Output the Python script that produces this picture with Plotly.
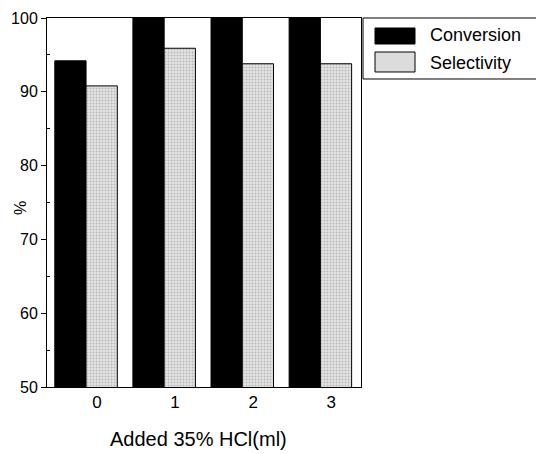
import plotly.graph_objects as go

categories = [0, 1, 2, 3]
tick_labels = ["0", "1", "2", "3"]
conversion = [94.2, 100, 100, 100]
selectivity = [90.8, 95.9, 93.8, 93.8]
series_names = ["Conversion", "Selectivity"]
x_title = "Added 35% HCl(ml)"
y_title = "%"

FONT = "Arial, Liberation Sans, sans-serif"
SEL_FILL = "#dcdcdc"

fig = go.Figure()
fig.add_trace(go.Bar(
    x=categories, y=conversion, name=series_names[0],
    width=0.40, offset=-0.54,
    marker=dict(color="black", line=dict(color="black", width=1)),
))
fig.add_trace(go.Bar(
    x=categories, y=selectivity, name=series_names[1],
    width=0.40, offset=-0.14,
    marker=dict(
        color=SEL_FILL,
        line=dict(color="black", width=1),
        pattern=dict(shape=".", fgcolor="#8a8a8a", bgcolor="#e4e4e4", size=3, solidity=0.35),
    ),
))

# legend drawn as a box with swatches (paper coordinates)
shapes = [
    dict(type="rect", xref="paper", yref="paper", x0=1.0064, x1=1.597, y0=0.8347, y1=1.0,
         line=dict(color="black", width=1), fillcolor="white"),
    dict(type="rect", xref="paper", yref="paper", x0=1.0446, x1=1.172, y0=0.9295, y1=0.9729,
         line=dict(color="black", width=1), fillcolor="black"),
    dict(type="rect", xref="paper", yref="paper", x0=1.0446, x1=1.172, y0=0.8537, y1=0.9079,
         line=dict(color="black", width=1), fillcolor=SEL_FILL),
]
annotations = [
    dict(text=series_names[0], xref="paper", yref="paper", x=1.213, y=0.9539,
         xanchor="left", yanchor="middle", showarrow=False, font=dict(size=18, family=FONT)),
    dict(text=series_names[1], xref="paper", yref="paper", x=1.213, y=0.878,
         xanchor="left", yanchor="middle", showarrow=False, font=dict(size=18, family=FONT)),
    dict(text=x_title, xref="paper", yref="paper", x=0.484, y=-0.142,
         xanchor="center", yanchor="middle", showarrow=False, font=dict(size=20, family=FONT)),
    dict(text=y_title, xref="paper", yref="paper", x=-0.086, y=0.485, textangle=-90,
         xanchor="center", yanchor="middle", showarrow=False, font=dict(size=16, family=FONT)),
]

fig.update_layout(
    width=536, height=454,
    margin=dict(l=47, r=175, t=18, b=67),
    paper_bgcolor="white", plot_bgcolor="white",
    font=dict(family=FONT, color="black", size=16),
    barmode="overlay",
    showlegend=False,
    shapes=shapes,
    annotations=annotations,
)
fig.update_xaxes(
    range=[-0.64, 3.38], automargin=False,
    tickvals=categories, ticktext=tick_labels,
    showline=True, linecolor="black", linewidth=1, mirror=True,
    ticks="", showgrid=False, zeroline=False,
    tickfont=dict(size=17),
)
fig.update_yaxes(
    range=[50, 100], automargin=False,
    tickvals=[50, 60, 70, 80, 90, 100],
    showline=True, linecolor="black", linewidth=1, mirror=True,
    ticks="outside", ticklen=5, tickcolor="black",
    minor=dict(tickvals=[55, 65, 75, 85, 95], ticks="inside", ticklen=3, tickcolor="black"),
    showgrid=False, zeroline=False,
    tickfont=dict(size=16),
)

fig.write_html("out.html")
